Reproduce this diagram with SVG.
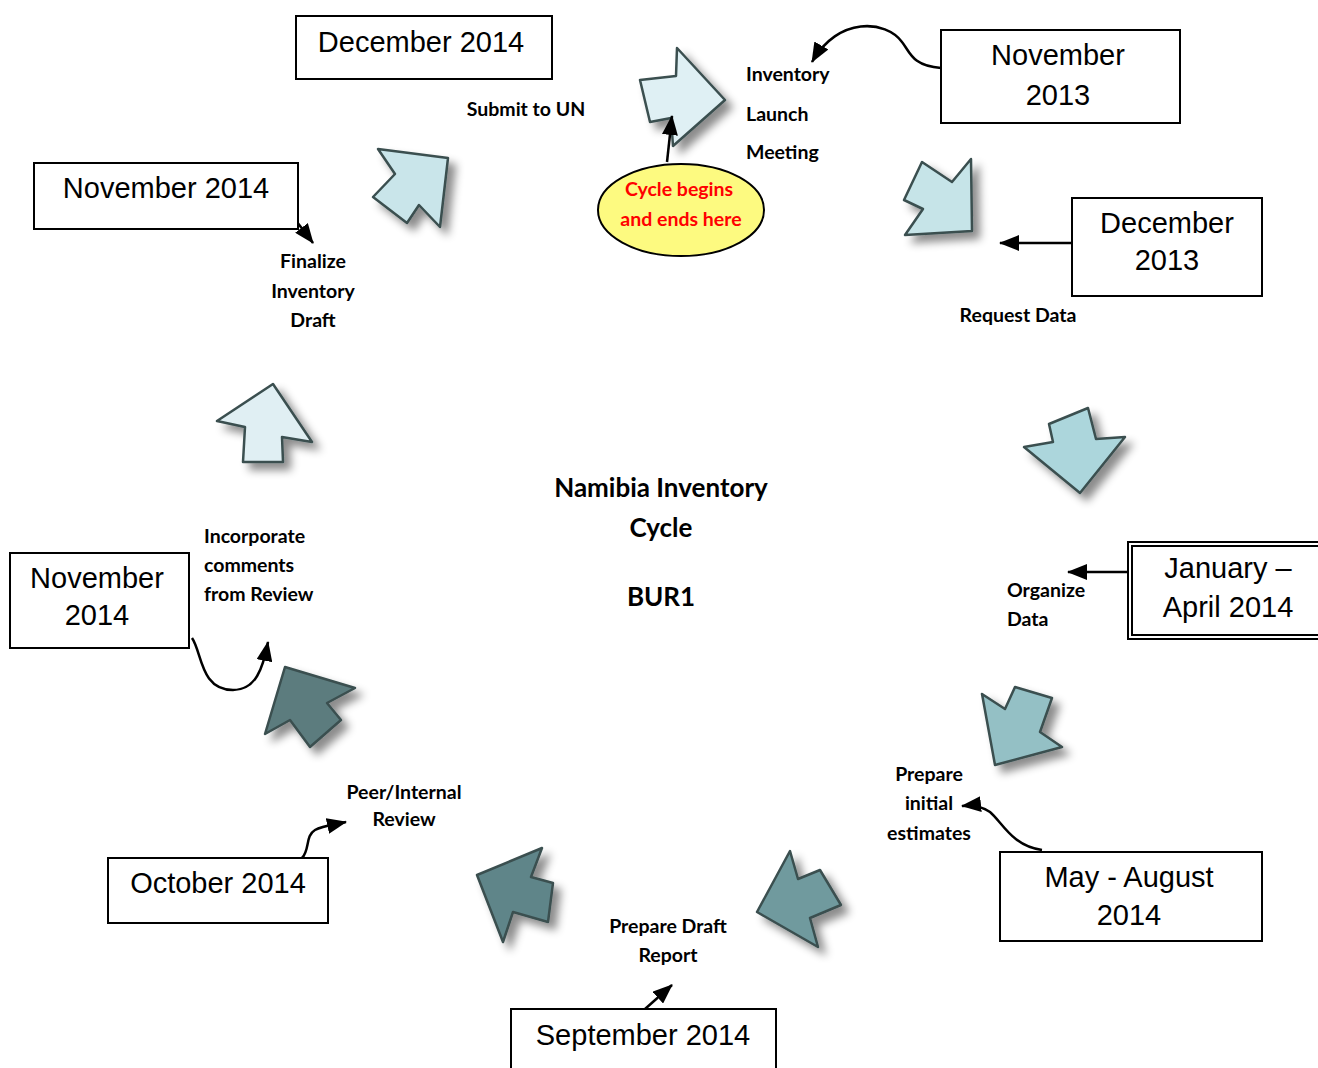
<svg xmlns="http://www.w3.org/2000/svg" width="1318" height="1068" viewBox="0 0 1318 1068">
<style>
.box{fill:#fff;stroke:#000;stroke-width:2}
.bt{font-family:"Liberation Sans",Arial,sans-serif;font-size:29px;fill:#000;text-anchor:middle}
.lb{font-family:Lato,"Liberation Sans",sans-serif;font-weight:bold;font-size:19.5px;fill:#000}
.c{text-anchor:middle}
.ar{stroke:#3a4f50;stroke-width:2.5;stroke-linejoin:round;filter:url(#sh)}
.con{fill:none;stroke:#000;stroke-width:2.5}
</style>
<defs>
<filter id="sh" x="-30%" y="-30%" width="170%" height="170%">
<feDropShadow dx="7" dy="7" stdDeviation="4" flood-color="#000" flood-opacity="0.45"/>
</filter>
<marker id="ah" markerUnits="userSpaceOnUse" markerWidth="20" markerHeight="16" refX="19" refY="8" orient="auto">
<path d="M0,0 L20,8 L0,16 z" fill="#000"/>
</marker>
</defs>
<rect width="1318" height="1068" fill="#fff"/>

<g id="arrows">
<polygon id="a1" class="ar" fill="#dff0f4" points="677,48 725,100 673,146 671,118 650,122 640,80 676,76"/>
<polygon id="a2" class="ar" fill="#c6e4e8" points="971,159 952,182 922,162 904,200 923,209 905,235 972,231"/>
<polygon id="a3" class="ar" fill="#acd6dc" points="1049,424 1088,408 1096,439 1125,437 1080,493 1024,447 1053,442"/>
<polygon id="a4" class="ar" fill="#94c0c5" points="982,694 1005,709 1015,687 1052,698 1040,732 1062,747 995,765"/>
<polygon id="a5" class="ar" fill="#6f9a9e" points="790,851 798,879 820,870 841,905 810,918 818,947 757,912"/>
<polygon id="a6" class="ar" fill="#5f8589" points="542,848 531,877 553,883 548,922 513,912 503,942 477,875"/>
<polygon id="a7" class="ar" fill="#5c7c7e" points="285,667 355,688 327,703 341,720 310,747 290,720 265,734"/>
<polygon id="a8" class="ar" fill="#e0eff3" points="273,384 312,442 282,437 283,462 243,462 245,427 217,421"/>
<polygon id="a9" class="ar" fill="#c9e5ea" points="378,149 448,158 440,227 419,205 407,223 373,197 395,174"/>
</g>

<g id="connectors">
<path class="con" d="M941,68 C912,66 910,52 902,42 C886,20 838,16 812,62" marker-end="url(#ah)"/>
<path class="con" d="M1072,243 L1000,243" marker-end="url(#ah)"/>
<path class="con" d="M1128,572 L1068,572" marker-end="url(#ah)"/>
<path class="con" d="M1042,850 C1012,846 1002,822 990,812 C982,806 972,805 962,806" marker-end="url(#ah)"/>
<path class="con" d="M645,1009 L672,985" marker-end="url(#ah)"/>
<path class="con" d="M302,858 C310,850 305,836 315,830 C322,826 332,825 346,822" marker-end="url(#ah)"/>
<path class="con" d="M192,638 C202,652 200,690 233,690 C256,690 263,668 268,642" marker-end="url(#ah)"/>
<path class="con" d="M297,222 L313,243" marker-end="url(#ah)"/>
<path class="con" d="M667,162 L672,116" marker-end="url(#ah)"/>
</g>

<g id="n-dec2014">
<rect class="box" x="296" y="16" width="256" height="63"/>
<text class="bt" x="421" y="52">December 2014</text>
</g>
<g id="n-nov2013">
<rect class="box" x="941" y="30" width="239" height="93"/>
<text class="bt" x="1058" y="65">November</text>
<text class="bt" x="1058" y="105">2013</text>
</g>
<g id="n-dec2013">
<rect class="box" x="1072" y="198" width="190" height="98"/>
<text class="bt" x="1167" y="233">December</text>
<text class="bt" x="1167" y="270">2013</text>
</g>
<g id="n-jan2014">
<rect class="box" x="1128" y="542" width="195" height="97"/>
<rect x="1132" y="546" width="190" height="89" fill="none" stroke="#000" stroke-width="2"/>
<text class="bt" x="1228" y="578">January –</text>
<text class="bt" x="1228" y="617">April 2014</text>
</g>
<g id="n-may2014">
<rect class="box" x="1000" y="852" width="262" height="89"/>
<text class="bt" x="1129" y="887">May - August</text>
<text class="bt" x="1129" y="925">2014</text>
</g>
<g id="n-sep2014">
<rect class="box" x="511" y="1009" width="265" height="65"/>
<text class="bt" x="643" y="1045">September 2014</text>
</g>
<g id="n-oct2014">
<rect class="box" x="108" y="858" width="220" height="65"/>
<text class="bt" x="218" y="893">October 2014</text>
</g>
<g id="n-nov2014b">
<rect class="box" x="10" y="553" width="179" height="95"/>
<text class="bt" x="97" y="588">November</text>
<text class="bt" x="97" y="625">2014</text>
</g>
<g id="n-nov2014a">
<rect class="box" x="34" y="163" width="264" height="66"/>
<text class="bt" x="166" y="198">November 2014</text>
</g>

<g id="n-start">
<ellipse cx="681" cy="210" rx="83" ry="46" fill="#fdfa80" stroke="#000" stroke-width="2"/>
<text class="lb c" x="679" y="196" style="fill:#ff0000">Cycle begins</text>
<text class="lb c" x="681" y="226" style="fill:#ff0000">and ends here</text>
</g>

<g id="labels">
<text class="lb c" x="526" y="116">Submit to UN</text>
<text class="lb" x="746" y="81">Inventory</text>
<text class="lb" x="746" y="121">Launch</text>
<text class="lb" x="746" y="159">Meeting</text>
<text class="lb c" x="1018" y="322">Request Data</text>
<text class="lb" x="1007" y="597">Organize</text>
<text class="lb" x="1007" y="626">Data</text>
<text class="lb c" x="929" y="781">Prepare</text>
<text class="lb c" x="929" y="810">initial</text>
<text class="lb c" x="929" y="840">estimates</text>
<text class="lb c" x="668" y="933">Prepare Draft</text>
<text class="lb c" x="668" y="962">Report</text>
<text class="lb c" x="404" y="799">Peer/Internal</text>
<text class="lb c" x="404" y="826">Review</text>
<text class="lb" x="204" y="543">Incorporate</text>
<text class="lb" x="204" y="572">comments</text>
<text class="lb" x="204" y="601">from Review</text>
<text class="lb c" x="313" y="268">Finalize</text>
<text class="lb c" x="313" y="298">Inventory</text>
<text class="lb c" x="313" y="327">Draft</text>
</g>

<g id="title">
<text class="lb c" x="661" y="497" style="font-size:26px">Namibia Inventory</text>
<text class="lb c" x="661" y="537" style="font-size:26px">Cycle</text>
<text class="lb c" x="661" y="606" style="font-size:26px">BUR1</text>
</g>
</svg>
